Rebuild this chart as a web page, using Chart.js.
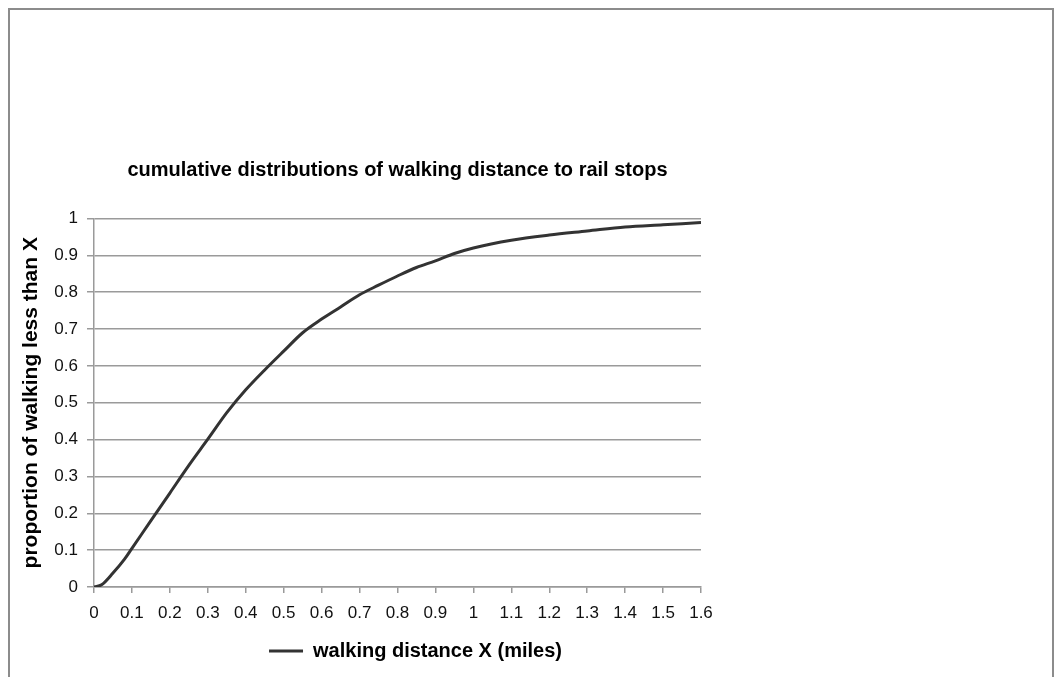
<!DOCTYPE html>
<html lang="en">
  <head>
    <meta charset="UTF-8" />
    <title>Walking distance to rail stops</title>
    <style>
      body {
        margin: 0;
        background: #fff;
      }
      /* outer chart frame, runs off the bottom of the page */
      .frame {
        position: absolute;
        left: 8px;
        top: 8px;
        width: 1046px;
        height: 700px;
        box-sizing: border-box;
        border: 2px solid #8c8c8c;
      }
      #cdf {
        position: absolute;
        left: 0;
        top: 0;
      }
    </style>
    <script src="https://cdn.jsdelivr.net/npm/chart.js"></script>
  </head>
  <body>
    <div class="frame"></div>
    <canvas id="cdf" width="1060" height="677"></canvas>

    <script>
      // walking distance (miles) and share of riders walking less than it
      const distance = [0, 0.02, 0.05, 0.08, 0.1, 0.15, 0.2, 0.25, 0.3, 0.35, 0.4, 0.45, 0.5, 0.55, 0.6, 0.65,
        0.7, 0.75, 0.8, 0.85, 0.9, 0.95, 1.0, 1.1, 1.2, 1.3, 1.4, 1.5, 1.6];
      const proportion = [0, 0.006, 0.038, 0.075, 0.105, 0.18, 0.255, 0.33, 0.401, 0.473, 0.535, 0.589, 0.64, 0.69, 0.727, 0.76,
        0.793, 0.819, 0.844, 0.867, 0.885, 0.905, 0.92, 0.941, 0.955, 0.966, 0.977, 0.983, 0.989];

      const xTickLabels = ['0', '0.1', '0.2', '0.3', '0.4', '0.5', '0.6', '0.7', '0.8', '0.9', '1', '1.1', '1.2', '1.3', '1.4', '1.5', '1.6'];
      const yTickLabels = ['0', '0.1', '0.2', '0.3', '0.4', '0.5', '0.6', '0.7', '0.8', '0.9', '1'];

      Chart.defaults.font.family = "'Liberation Sans', Arial, sans-serif";
      Chart.defaults.color = '#111';

      const gridGray = '#9a9a9a';

      // legend sits a little right of the plot centre
      const legendNudge = {
        id: 'legendNudge',
        afterLayout(chart) {
          chart.legend.left += 18;
          chart.legend.right += 18;
        }
      };

      new Chart(document.getElementById('cdf'), {
        type: 'line',
        data: {
          datasets: [{
            label: 'walking distance X (miles)',
            data: distance.map((d, i) => ({ x: d, y: proportion[i] })),
            borderColor: '#333333',
            backgroundColor: '#333333',
            borderWidth: 3,
            pointRadius: 0,
            cubicInterpolationMode: 'monotone',
            fill: false
          }]
        },
        options: {
          responsive: false,
          animation: false,
          layout: {
            padding: { left: 0, right: 359, top: 0, bottom: 6 }
          },
          plugins: {
            title: {
              display: true,
              text: 'cumulative distributions of walking distance to rail stops',
              fullSize: false,
              color: '#000',
              font: { size: 20, weight: 'bold', lineHeight: 1.2 },
              padding: { top: 158, bottom: 36.5 }
            },
            legend: {
              position: 'bottom',
              fullSize: false,
              labels: {
                usePointStyle: true,
                pointStyle: 'line',
                pointStyleWidth: 34,
                color: '#000',
                font: { size: 20, weight: 'bold' },
                padding: 10
              }
            },
            tooltip: { enabled: false }
          },
          scales: {
            x: {
              type: 'linear',
              min: 0,
              max: 1.6,
              ticks: {
                stepSize: 0.1,
                autoSkip: false,
                maxRotation: 0,
                padding: 10,
                font: { size: 17 },
                callback: (v, i) => xTickLabels[i]
              },
              grid: { drawOnChartArea: false, tickLength: 6, color: gridGray, lineWidth: 1.5 },
              border: { color: gridGray, width: 1.5 },
              afterFit: s => { s.height = 44; }
            },
            y: {
              min: 0,
              max: 1,
              ticks: {
                stepSize: 0.1,
                padding: 9,
                font: { size: 17 },
                callback: (v, i) => yTickLabels[i]
              },
              grid: { color: gridGray, lineWidth: 1.5, tickLength: 7 },
              border: { color: gridGray, width: 1.5 },
              title: {
                display: true,
                text: 'proportion of walking less than X',
                color: '#000',
                font: { size: 21, weight: 'bold', lineHeight: 1.2 },
                padding: { top: 19, bottom: 0 }
              },
              afterFit: s => { s.width = 94; }
            }
          }
        },
        plugins: [legendNudge]
      });
    </script>
  </body>
</html>
